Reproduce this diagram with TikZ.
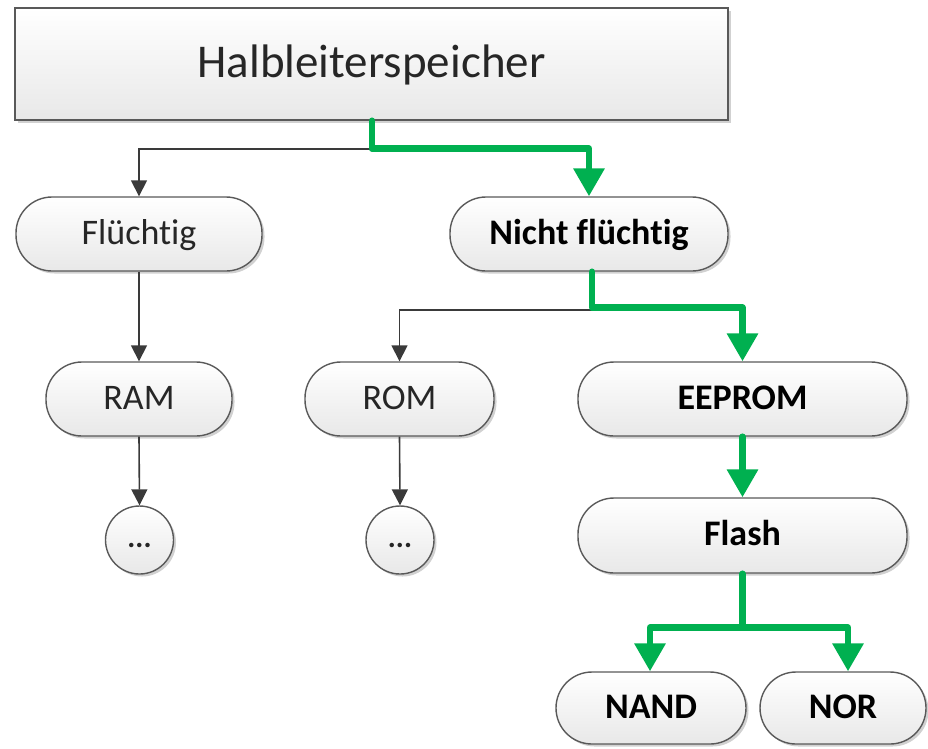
\documentclass[tikz,border=0pt]{standalone}
\usepackage{fontspec}
\setmainfont{Carlito}[Ligatures=NoCommon]
\usetikzlibrary{arrows.meta,shadows}
\definecolor{pathgreen}{HTML}{00B050}
\definecolor{boxline}{HTML}{595959}
\definecolor{linkgray}{HTML}{3A3A3A}
\definecolor{labeltext}{HTML}{262626}
\begin{document}
\begin{tikzpicture}[x=1pt,y=-1pt,
  base/.style={draw=boxline, line width=1.4pt, top color=white, bottom color=black!9,
    inner sep=0pt, text=labeltext,
    drop shadow={shadow xshift=2.5pt, shadow yshift=-2.5pt, opacity=0.18, fill=black}},
  pill/.style={base, rounded corners=36pt, minimum height=74pt,
    font=\fontsize{36}{40}\selectfont, text height=27pt, text depth=7pt},
  boldpill/.style={pill, font=\fontsize{36}{40}\selectfont\bfseries, text=black},
  dotnode/.style={base, circle, minimum size=68pt,
    font=\fontsize{30}{34}\selectfont\bfseries, text height=20pt, text depth=6pt},
  greylink/.style={draw=linkgray, line width=1.6pt,
    -{Triangle[length=16pt,width=16pt]}},
  greenlink/.style={draw=pathgreen, line width=6.5pt, line cap=round, line join=round,
    -{Triangle[length=28pt,width=30pt]}},
  greentrunk/.style={draw=pathgreen, line width=6.5pt, line cap=round, line join=round}]

\useasboundingbox (0,0) rectangle (928,748);

% root
\node[base, minimum width=713pt, minimum height=112pt,
      font=\fontsize{47}{52}\selectfont, text height=35pt, text depth=9pt]
  (root) at (371.5,64) {Halbleiterspeicher};

% second level
\node[pill, minimum width=246pt] (fluechtig) at (139,234) {Flüchtig};
\node[boldpill, minimum width=278pt] (nichtfl) at (589,234) {Nicht flüchtig};

% third level
\node[pill, minimum width=186pt] (ram) at (139,399) {RAM};
\node[pill, minimum width=189pt] (rom) at (399.5,399) {ROM};
\node[boldpill, minimum width=329pt] (eeprom) at (742.5,399) {EEPROM};

% further levels
\node[dotnode] (ramdots) at (139.5,540) {...};
\node[dotnode] (romdots) at (400,540) {...};
\node[boldpill, minimum width=329pt, minimum height=75pt] (flash) at (742.5,535.5) {Flash};
\node[boldpill, minimum width=190pt, minimum height=72pt] (nand) at (651,708) {NAND};
\node[boldpill, minimum width=166pt, minimum height=72pt] (nor) at (843,708) {NOR};

% grey branches
\draw[greylink] ([xshift=0.5pt]root.south) -- ++(0,28) -| (fluechtig.north);
\draw[greylink] (fluechtig.south) -- (ram.north);
\draw[greylink] (ram.south) -- (ramdots.north);
\draw[greylink] ([xshift=3pt]nichtfl.south) -- ++(0,38) -| (rom.north);
\draw[greylink] (rom.south) -- (romdots.north);

% highlighted path
\draw[greenlink] ([xshift=0.5pt]root.south) -- ++(0,28) -| (nichtfl.north);
\draw[greenlink] ([xshift=3pt]nichtfl.south) -- ++(0,36) -| (eeprom.north);
\draw[greenlink] (eeprom.south) -- (flash.north);
\draw[greentrunk] (flash.south) -- ++(0,54) coordinate (fork);
\draw[greenlink] (fork) -| ([xshift=-1pt]nand.north);
\draw[greenlink] (fork) -| ([xshift=5pt]nor.north);
\end{tikzpicture}
\end{document}
